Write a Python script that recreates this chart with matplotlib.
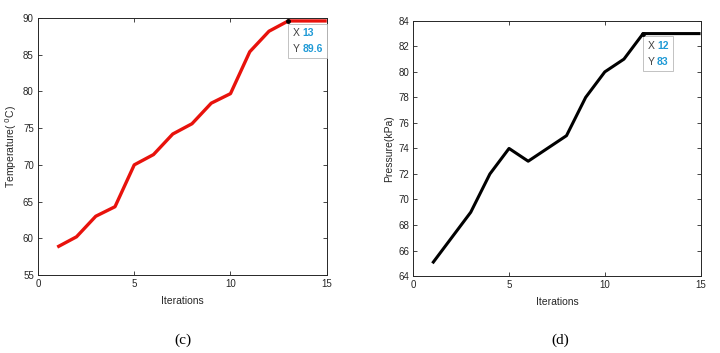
import matplotlib.pyplot as plt
from matplotlib.offsetbox import TextArea, HPacker, VPacker, AnnotationBbox

# data
iterations = list(range(1, 16))
temperature = [58.8, 60.2, 63.0, 64.3, 70.0, 71.4, 74.2, 75.6, 78.4, 79.7,
               85.4, 88.2, 89.6, 89.6, 89.6]
pressure = [65, 67, 69, 72, 74, 73, 74, 75, 78, 80, 81, 83, 83, 83, 83]

tick_col = '#262626'
plt.rcParams['font.family'] = ['Liberation Sans', 'DejaVu Sans']

fig = plt.figure(figsize=(7.2, 3.53), dpi=100)
ax1 = fig.add_axes([0.0528, 0.221, 0.401, 0.728])
ax2 = fig.add_axes([0.574, 0.218, 0.399, 0.723])


def style(ax):
    ax.tick_params(direction='in', top=True, right=True, labelsize=7,
                   colors=tick_col, length=3, width=0.6, pad=3)
    for s in ax.spines.values():
        s.set_color(tick_col)
        s.set_linewidth(0.7)
    ax.set_xlim(0, 15)
    ax.set_xticks([0, 5, 10, 15])
    ax.set_xlabel('Iterations', fontsize=7.5, color=tick_col, labelpad=5)


def datatip(ax, x, y, xs, ys):
    ax.plot([x], [y], 'o', color='black', ms=2.5, zorder=7)
    lab = dict(fontsize=7.5, color='#404040')
    val = dict(fontsize=7.5, color='#1f9ad6', fontweight='bold')
    rows = []
    for name, txt in (('X', xs), ('Y', ys)):
        rows.append(HPacker(children=[TextArea(name, textprops=lab),
                                      TextArea(txt, textprops=val)],
                            pad=0, sep=2))
    box = VPacker(children=rows, pad=0, sep=4.5, align='left')
    ab = AnnotationBbox(box, (x, y), xybox=(3, -5), xycoords='data',
                        boxcoords='offset points', box_alignment=(0, 1),
                        frameon=True, pad=0.3,
                        bboxprops=dict(fc='white', ec='#b8b8b8', lw=0.6))
    ab.set_zorder(6)
    ax.add_artist(ab)


# (c) temperature
ax1.plot(iterations, temperature, color='#e8120c', lw=2.4, solid_capstyle='butt')
style(ax1)
ax1.set_ylim(55, 90)
ax1.set_yticks(range(55, 91, 5))
ax1.set_ylabel('Temperature( $^{0}$C)', fontsize=7.5, color=tick_col, labelpad=3)
datatip(ax1, 13, 89.6, '13', '89.6')

# (d) pressure
ax2.plot(iterations, pressure, color='black', lw=2.2, solid_capstyle='butt')
style(ax2)
ax2.set_ylim(64, 84)
ax2.set_yticks(range(64, 85, 2))
ax2.set_ylabel('Pressure(kPa)', fontsize=7.5, color=tick_col, labelpad=3)
datatip(ax2, 12, 83, '12', '83')

fig.text(183 / 720, 1 - 340 / 353, '(c)', ha='center', va='center',
         fontsize=11, family='Liberation Serif')
fig.text(560 / 720, 1 - 340 / 353, '(d)', ha='center', va='center',
         fontsize=11, family='Liberation Serif')

fig.savefig('out.png', dpi=100)
